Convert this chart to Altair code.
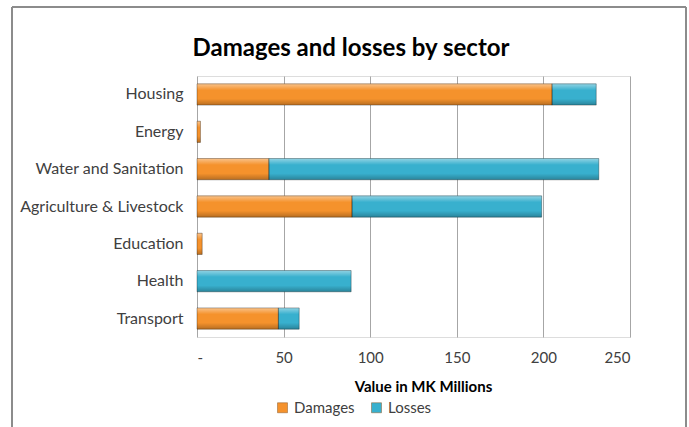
import altair as alt
import pandas as pd

title_text = "Damages and losses by sector"
sectors = ["Housing", "Energy", "Water and Sanitation", "Agriculture & Livestock",
           "Education", "Health", "Transport"]
damages = [205, 2, 41.5, 89.5, 3, 0, 47]
losses = [25.5, 0, 190.5, 109.5, 0, 89, 12]
series = ["Damages", "Losses"]
colors = ["#F5922C", "#38B0CE"]
x_ticks = [0, 50, 100, 150, 200, 250]

rows = []
for i, s in enumerate(sectors):
    rows.append({"sector": s, "series": series[0], "k": 0, "value": damages[i]})
    rows.append({"sector": s, "series": series[1], "k": 1, "value": losses[i]})
df = pd.DataFrame(rows)

FONT = "Lato"

x_enc = alt.X(
    "x0:Q",
    scale=alt.Scale(domain=[0, 250], nice=False),
    axis=alt.Axis(
        values=x_ticks, grid=True, gridColor="#A6A6A6", gridWidth=1,
        domain=False, ticks=False,
        labelExpr="datum.value == 0 ? '-' : datum.label",
        labelFont=FONT, labelFontSize=15, labelColor="#404040", labelPadding=13,
        title="Value in MK Millions", titleFont=FONT, titleFontSize=15,
        titleFontWeight="bold", titleColor="#000000",
        titleX=226, titleY=54, titleAlign="center", titleBaseline="alphabetic",
    ),
)
y_enc = alt.Y(
    "sector:N", sort=sectors,
    scale=alt.Scale(paddingInner=0.43, paddingOuter=0.21),
    axis=alt.Axis(
        title=None, ticks=False, domain=False,
        labelFont=FONT, labelFontSize=16, labelColor="#404040", labelPadding=14,
        labelExpr="(datum.value == 'Housing' || datum.value == 'Education') ? datum.label + '\u00a0' : datum.label",
    ),
)

base = alt.Chart(df).transform_stack(
    stack="value", groupby=["sector"], as_=["x0", "x1"], sort=[alt.SortField("k")]
).transform_filter("datum.value > 0")

bars = base.mark_bar().encode(
    x=x_enc, x2="x1:Q", y=y_enc,
    color=alt.Color(
        "series:N",
        scale=alt.Scale(domain=series, range=colors),
        legend=alt.Legend(
            title=None, orient="none", legendX=78, legendY=324,
            direction="horizontal", symbolType="square", symbolSize=100,
            symbolStrokeColor="#8a5a2a", symbolStrokeWidth=0.5,
            labelFont=FONT, labelFontSize=15, labelColor="#404040",
            columnPadding=14, labelOffset=4,
        ),
    ),
)

shade = base.mark_bar(
    fill=alt.Gradient(
        gradient="linear", x1=0, x2=0, y1=0, y2=1,
        stops=[
            alt.GradientStop(color="rgba(255,255,255,0.45)", offset=0),
            alt.GradientStop(color="rgba(255,255,255,0.0)", offset=0.3),
            alt.GradientStop(color="rgba(0,0,0,0.0)", offset=0.7),
            alt.GradientStop(color="rgba(0,0,0,0.25)", offset=1),
        ],
    ),
    stroke="rgba(0,0,0,0.3)", strokeWidth=1,
).encode(x="x0:Q", x2="x1:Q", y=alt.Y("sector:N", sort=sectors))

frame_data = alt.Data(values=[{}])
frame_left = alt.Chart(frame_data).mark_rule(color="#8C8C8C", strokeWidth=2).encode(
    x=alt.value(-185), y=alt.value(-69), y2=alt.value(360))
frame_right = alt.Chart(frame_data).mark_rule(color="#8C8C8C", strokeWidth=2).encode(
    x=alt.value(489), y=alt.value(-69), y2=alt.value(360))
frame_top = alt.Chart(frame_data).mark_rule(color="#8C8C8C", strokeWidth=2).encode(
    x=alt.value(-185), x2=alt.value(489), y=alt.value(-69))

title = alt.Chart(frame_data).mark_text(
    text=title_text, font=FONT, fontSize=24, fontWeight="bold", color="#000000",
    align="center", baseline="alphabetic",
).encode(x=alt.value(154), y=alt.value(-20))

chart = alt.layer(bars, shade, frame_left, frame_right, frame_top, title).properties(
    width=433, height=261,
    autosize=alt.AutoSizeParams(type="none"),
    padding={"left": 197, "top": 76, "right": 59, "bottom": 90},
).configure_view(stroke=None).configure(background="white")

chart.save("out.html", embed_options={"renderer": "svg", "actions": False})
